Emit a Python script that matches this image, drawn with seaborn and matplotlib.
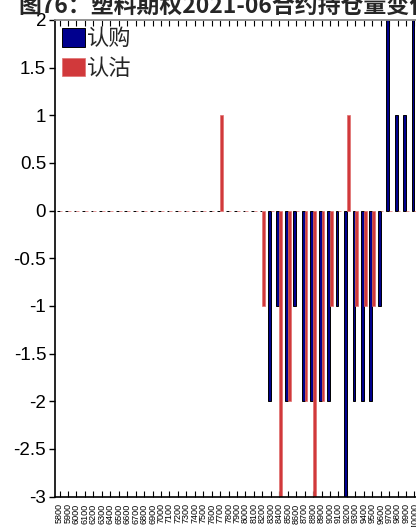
import matplotlib
matplotlib.use("Agg")
import matplotlib.pyplot as plt
from matplotlib.patches import Patch
import seaborn as sns
import pandas as pd
import numpy as np

# ---- data ----
strikes = [str(s) for s in range(5800, 10100, 100)] + ["10200", "10400", "10600"]
call_label = "认购"
put_label = "认沽"
# non-zero open-interest changes (strike -> value)
call_changes = {8300: -2, 8400: -1, 8500: -2, 8600: -1, 8700: -2, 8800: -2,
                8900: -2, 9000: -2, 9100: -1, 9200: -3, 9300: -2, 9400: -2,
                9500: -2, 9600: -1, 9700: 2, 9800: 1, 9900: 1, 10000: 2}
put_changes = {7700: 1, 8200: -1, 8400: -3, 8500: -2, 8700: -2, 8800: -3,
               8900: -2, 9000: -1, 9200: 1, 9300: -1, 9400: -1, 9500: -1}
call_values = [call_changes.get(int(s), 0) for s in strikes]
put_values = [put_changes.get(int(s), 0) for s in strikes]
title = "图76：塑料期权2021-06合约持仓量变化"
yticks = [2, 1.5, 1, 0.5, 0, -0.5, -1, -1.5, -2, -2.5, -3]

blue = "#00008E"
red = "#D1393B"

df = pd.DataFrame({
    "strike": strikes * 2,
    "type": [call_label] * len(strikes) + [put_label] * len(strikes),
    "value": call_values + put_values,
})

sns.set_style("ticks")
plt.rcParams["axes.unicode_minus"] = False
plt.rcParams["font.family"] = ["Liberation Sans", "Noto Sans CJK SC", "DejaVu Sans"]

W, H = 416, 527
fig = plt.figure(figsize=(W / 100, H / 100), dpi=100)
left_px, top_px, bottom_px = 54.5, 20, 496.5
spacing = 8.45
x_lo, x_hi = -0.6, len(strikes) - 0.5
ax_w = spacing * (x_hi - x_lo)
ax = fig.add_axes([left_px / W, (H - bottom_px) / H, ax_w / W, (bottom_px - top_px) / H])

sns.barplot(data=df, x="strike", y="value", hue="type", order=strikes,
            hue_order=[call_label, put_label], palette=[blue, red],
            width=0.66, errorbar=None, ax=ax, legend=False, saturation=1)

for bar in ax.containers[0]:
    bar.set_edgecolor("#000000")
    bar.set_linewidth(0.7)
for bar in ax.containers[1]:
    bar.set_edgecolor("#E07070")
    bar.set_linewidth(0.5)

ax.set_ylim(-3, 2)
ax.set_xlim(x_lo, x_hi)
ax.set_yticks(yticks)
ax.set_yticklabels([f"{v:g}" for v in yticks])
ax.set_xlabel("")
ax.set_ylabel("")

ax.tick_params(axis="y", direction="out", length=4, width=1, labelsize=13.5, pad=2,
               colors="black")
ax.tick_params(axis="x", direction="in", length=4, width=0.8, top=True, bottom=True,
               labelsize=6.5, labelrotation=90, pad=5, colors="black")

for side in ["left", "bottom"]:
    ax.spines[side].set_color("black")
    ax.spines[side].set_linewidth(1.2)
ax.spines["top"].set_color("#8a8a8a")
ax.spines["top"].set_linewidth(1.3)
ax.spines["right"].set_visible(False)

handles = [Patch(facecolor=blue, edgecolor="black", linewidth=0.7),
           Patch(facecolor=red, edgecolor="#E07070", linewidth=0.5)]
ax.legend(handles, [call_label, put_label], loc="upper left",
          bbox_to_anchor=(7.0 / ax_w, 1 - 7.0 / (bottom_px - top_px)),
          frameon=False, handlelength=1.05, handleheight=0.9, handletextpad=0.08,
          labelspacing=0.3, borderaxespad=0, borderpad=0,
          prop={"family": "Noto Sans CJK SC", "size": 16})

fig.text(18 / W, (H - 12.5) / H, title, fontsize=16.5, fontweight="bold",
         family=["Noto Sans CJK SC"], ha="left", va="baseline")

fig.savefig("out.png", dpi=100)
